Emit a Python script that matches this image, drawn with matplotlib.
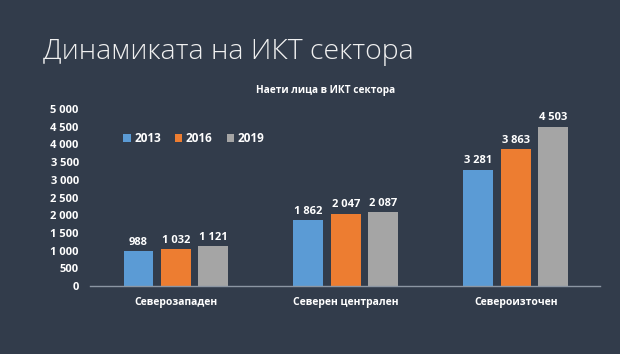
import numpy as np
import matplotlib

matplotlib.use("Agg")
import matplotlib.pyplot as plt

# данни
regions = ["Северозападен", "Северен централен", "Североизточен"]
years = ["2013", "2016", "2019"]
values_2013 = [988, 1862, 3281]
values_2016 = [1032, 2047, 3863]
values_2019 = [1121, 2087, 4503]
yticks = [0, 500, 1000, 1500, 2000, 2500, 3000, 3500, 4000, 4500, 5000]

bg = "#323c4b"
colors = ["#5b9bd5", "#ed7d31", "#a5a5a5"]
txt = "#ffffff"


def fmt(v):
    return f"{v:,}".replace(",", " ")


plt.rcParams["font.family"] = ["Open Sans", "DejaVu Sans"]

fig = plt.figure(figsize=(6.2, 3.54), dpi=100, facecolor=bg)
ax = fig.add_axes([0.145, 0.192, 0.823, 0.5], facecolor=bg)

x = np.arange(len(regions))
width = 0.176
offset = 0.22
series = [values_2013, values_2016, values_2019]
for i, (vals, year) in enumerate(zip(series, years)):
    bars = ax.bar(x + (i - 1) * offset, vals, width, color=colors[i], label=year, zorder=2)
    for b, v in zip(bars, vals):
        ax.text(b.get_x() + b.get_width() / 2, v + 100, fmt(v), ha="center", va="bottom",
                color=txt, fontsize=8, fontweight="bold")

ax.set_xlim(-0.506, 2.497)
ax.set_ylim(0, 5000)
ax.set_yticks(yticks)
ax.set_yticklabels([fmt(t) for t in yticks], color=txt, fontsize=8, fontweight="bold")
ax.set_xticks(x)
ax.set_xticklabels(regions, color=txt, fontsize=7.5, fontweight="bold")
ax.tick_params(axis="both", length=0, pad=8)
ax.tick_params(axis="y", pad=8)
for s in ["top", "right", "left"]:
    ax.spines[s].set_visible(False)
ax.spines["bottom"].set_color("#8c96a3")
ax.spines["bottom"].set_linewidth(1)

leg = ax.legend(loc="upper left", bbox_to_anchor=(0.045, 0.93), ncol=3, frameon=False,
                handlelength=0.6, handleheight=0.6, handletextpad=0.3, columnspacing=1.2,
                prop={"size": 8.5, "weight": "bold"})
for t in leg.get_texts():
    t.set_color(txt)

fig.text(0.525, 0.745, "Наети лица в ИКТ сектора", ha="center", va="center",
         color=txt, fontsize=7.3, fontweight="bold")
fig.text(0.07, 0.852, "Динамиката на ИКТ сектора", ha="left", va="center",
         color="#f0f0f0", fontsize=20.5, fontweight="light")

plt.savefig("out.png", dpi=100, facecolor=bg)
plt.close()
